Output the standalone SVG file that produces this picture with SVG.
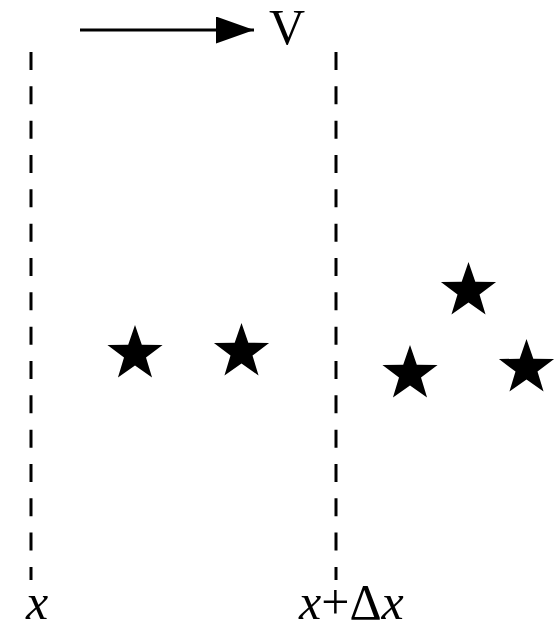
<svg xmlns="http://www.w3.org/2000/svg" width="558" height="631" viewBox="0 0 558 631">
<style>
.dash{stroke:#000;stroke-width:3;stroke-dasharray:18 16.33;fill:none}
.lbl{font-family:"Liberation Serif","Times New Roman",serif;font-size:50px;fill:#000}
.it{font-style:italic}
</style>
<defs>
<path id="star" d="M0,-29 L6.8,-9.3 L27.58,-8.96 L11,3.6 L17.05,23.46 L0,11.6 L-17.05,23.46 L-11,3.6 L-27.58,-8.96 L-6.8,-9.3 Z" fill="#000"/>
<marker id="ah" markerWidth="38" markerHeight="27" refX="38" refY="13.5" markerUnits="userSpaceOnUse" orient="auto">
<path d="M0,0 L38,13.5 L0,27 Z" fill="#000"/>
</marker>
</defs>
<g id="connectors">
<line id="arrow-v" x1="80" y1="30" x2="254" y2="30" stroke="#000" stroke-width="3" marker-end="url(#ah)"/>
</g>
<g id="boundary-x"><line class="dash" x1="31" y1="52" x2="31" y2="580"/></g>
<g id="boundary-xdx"><line class="dash" x1="336" y1="52" x2="336" y2="580"/></g>
<g id="label-v"><text class="lbl" x="269" y="44">V</text></g>
<g id="label-x"><text class="lbl it" x="26" y="619">x</text></g>
<g id="label-xdx"><text class="lbl" x="299" y="619"><tspan class="it">x</tspan>+Δ<tspan class="it">x</tspan></text></g>
<g id="star1"><use href="#star" x="135" y="354"/></g>
<g id="star2"><use href="#star" x="241.5" y="352"/></g>
<g id="star3"><use href="#star" x="468.5" y="291"/></g>
<g id="star4"><use href="#star" x="410" y="374"/></g>
<g id="star5"><use href="#star" x="526.5" y="368"/></g>
</svg>
